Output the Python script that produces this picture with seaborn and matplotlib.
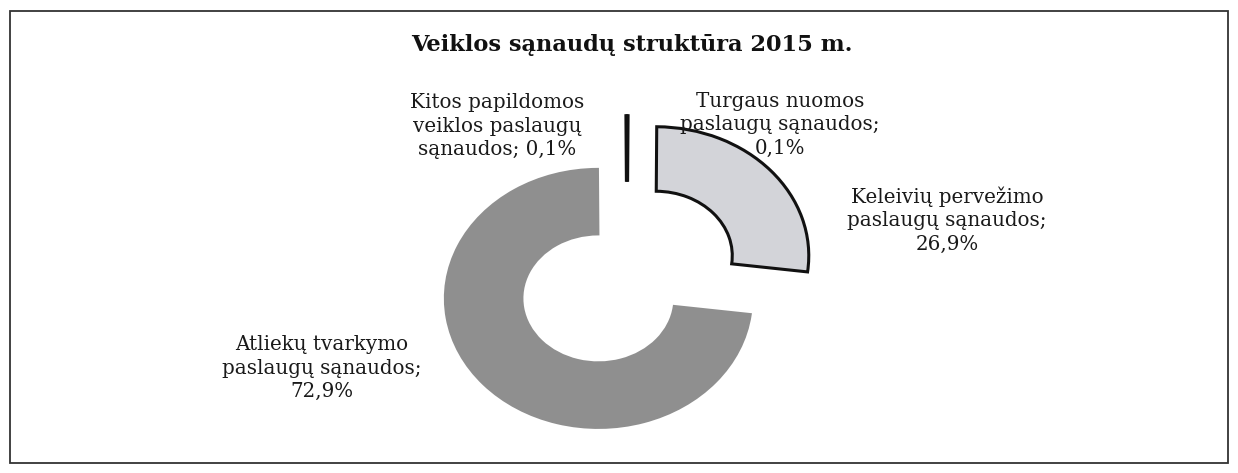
import matplotlib
matplotlib.use("Agg")
import matplotlib.pyplot as plt
import seaborn as sns
from matplotlib.patches import Rectangle

# ---- data ----
categories = [
    "Turgaus nuomos\npaslaugų sąnaudos;\n0,1%",
    "Keleivių pervežimo\npaslaugų sąnaudos;\n26,9%",
    "Atliekų tvarkymo\npaslaugų sąnaudos;\n72,9%",
    "Kitos papildomos\nveiklos paslaugų\nsąnaudos; 0,1%",
]
values = [0.1, 26.9, 72.9, 0.1]
slice_colors = ["#d3d4d9", "#d3d4d9", "#8f8f8f", "#8f8f8f"]
edge_colors = ["#111111", "#111111", "#8f8f8f", "#111111"]
title = "Veiklos sąnaudų struktūra 2015 m."

sns.set_theme(style="white")
plt.rcParams["font.family"] = ["DejaVu Serif", "DejaVu Sans"]

W, H = 1238, 473
fig = plt.figure(figsize=(W / 100, H / 100), dpi=100)
fig.patch.set_facecolor("white")

def fx(px):
    return px / W

def fy(py):
    return 1 - py / H

# axes so that unit radius -> rx=153 px, ry=129 px, centre at (627, 277)
cx, cy, rx, ry = 627, 277, 153, 129
xl, xr, yb, yt = -2.0, 2.0, -1.4, 1.6
ax = fig.add_axes([fx(cx + xl * rx), fy(cy - yb * ry),
                   (xr - xl) * rx / W, (yt - yb) * ry / H])

wedges, _ = ax.pie(values, startangle=90, counterclock=False,
                   colors=slice_colors, explode=[0.25, 0.25, 0.25, 0.25],
                   radius=1.0,
                   wedgeprops=dict(width=0.5, linewidth=2.2))
for w, ec in zip(wedges, edge_colors):
    w.set_edgecolor(ec)
ax.set_aspect("auto")
ax.set_xlim(xl, xr)
ax.set_ylim(yb, yt)
ax.axis("off")

# title
fig.text(fx(632), fy(45), title, ha="center", va="center",
         fontsize=16.2, fontweight="bold", color="#111111")

# labels
label_pos = [(780, 125), (947, 220), (322, 368), (497, 126)]
for lab, (px, py) in zip(categories, label_pos):
    fig.text(fx(px), fy(py), lab, ha="center", va="center",
             fontsize=14.3, color="#1a1a1a", linespacing=1.3)

# frame
fig.add_artist(Rectangle((fx(10), fy(463)), fx(1228) - fx(10), fy(11) - fy(463),
                         transform=fig.transFigure, fill=False,
                         edgecolor="#333333", linewidth=1.3))

fig.savefig("out.png", dpi=100)
